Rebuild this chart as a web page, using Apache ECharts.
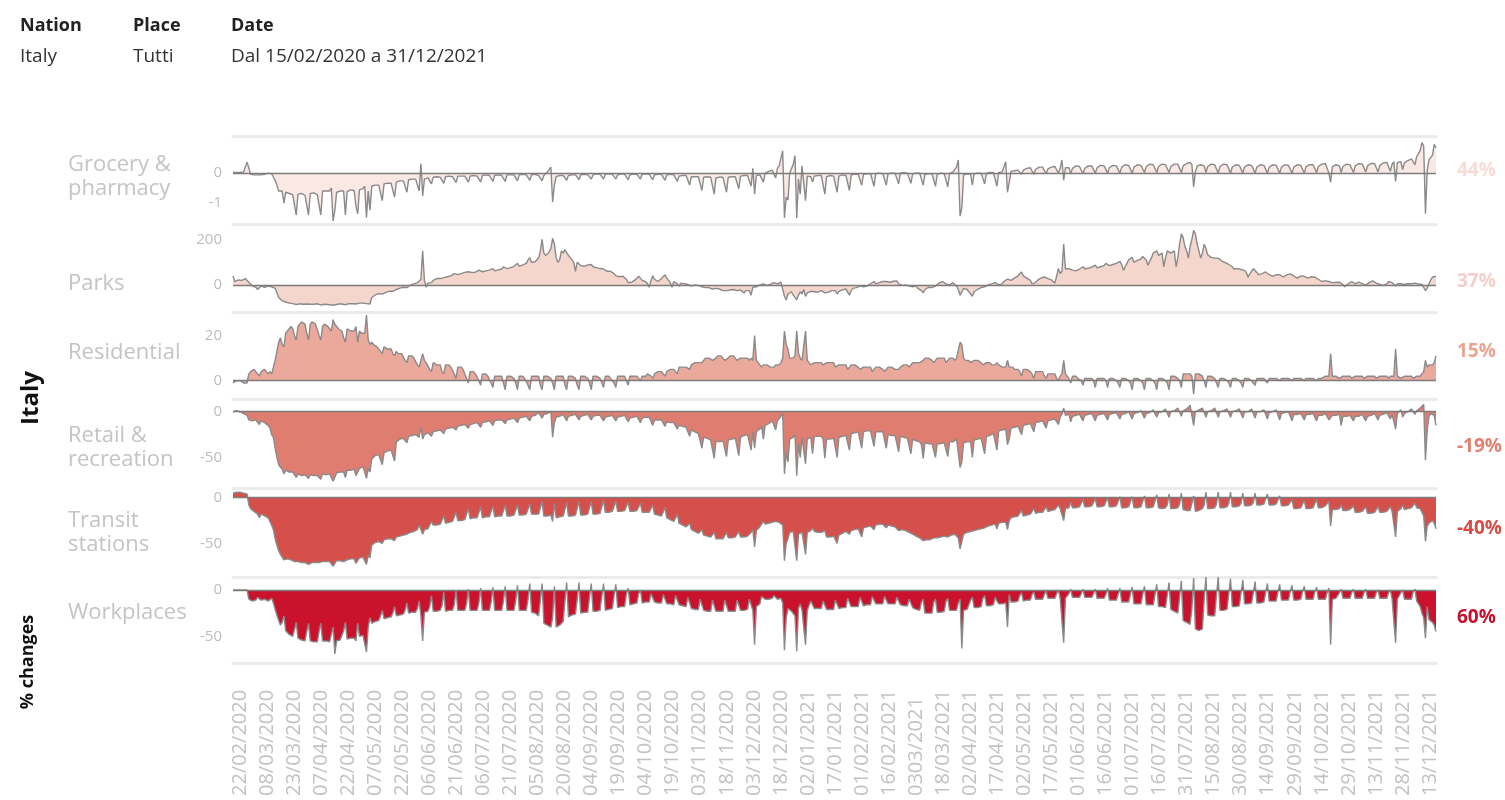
<!DOCTYPE html>
<html><head><meta charset="utf-8">
<script src="https://cdn.jsdelivr.net/npm/echarts@6/dist/echarts.min.js"></script>
<style>html,body{margin:0;padding:0;background:#fff}#c{width:1505px;height:800px}</style>
</head><body><div id="c"></div>
<script>
// ---------- DATA ----------
const nation = 'Italy', place = 'Tutti', period = 'Dal 15/02/2020 a 31/12/2021';
const startDate = [2020, 1, 15];   // 15/02/2020, one value per day up to 31/12/2021
const panelNames = [['Grocery &','pharmacy'],['Parks'],['Residential'],['Retail &','recreation'],['Transit','stations'],['Workplaces']];
const summaryLabels = ['44%','37%','15%','-19%','-40%','60%'];
const yTickValues = [[0,-50],[0,200],[0,20],[0,-50],[0,-50],[0,-50]];
const yTickLabels = [['0','-1'],['0','200'],['0','20'],['0','-50'],['0','-50'],['0','-50']];
const xTickLabels = ['22/02/2020','08/03/2020','23/03/2020','07/04/2020','22/04/2020','07/05/2020','22/05/2020','06/06/2020','21/06/2020','06/07/2020','21/07/2020','05/08/2020','20/08/2020','04/09/2020','19/09/2020','04/10/2020','19/10/2020','03/11/2020','18/11/2020','03/12/2020','18/12/2020','02/01/2021','17/01/2021','01/02/2021','16/02/2021','0303/2021','18/03/2021','02/04/2021','17/04/2021','02/05/2021','17/05/2021','01/06/2021','16/06/2021','01/07/2021','16/07/2021','31/07/2021','15/08/2021','30/08/2021','14/09/2021','29/09/2021','14/10/2021','29/10/2021','13/11/2021','28/11/2021','13/12/2021'];

// weekly rows: Sat..Fri
const grocery = [
1,0,1,0,1,0,2,
5,18,9,-2,-3,-3,-2,
-3,-2,-3,-2,-2,-1,0,
1,-1,-3,-12,-20,-30,-28,
-30,-50,-32,-33,-34,-35,-36,
-36,-70,-35,-36,-34,-35,-37,
-37,-70,-34,-35,-33,-34,-36,
-33,-70,-30,-31,-30,-28,-30,
-25,-80,-62,-32,-31,-30,-31,
-30,-70,-31,-29,-28,-27,-29,
-55,-68,-28,-27,-26,-22,-74,
-30,-62,-22,-21,-20,-19,-20,
-21,-46,-18,-17,-17,-16,-17,
-18,-40,-15,-13,-13,-12,-13,
-14,-32,-11,-10,-10,-9,-10,
-10,-30,16,-38,-10,-8,-8,
-8,-18,-7,-6,-6,-6,-7,
-7,-17,-6,-6,-5,-5,-6,
-6,-16,-5,-5,-5,-4,-5,
-6,-15,-5,-4,-4,-4,-5,
-5,-15,-4,-4,-3,-3,-4,
-5,-14,-4,-3,-3,-3,-4,
-5,-14,-3,-3,-3,-2,-3,
-4,-13,-3,-3,-2,-2,-3,
-3,-12,-3,-3,-2,-3,-4,
-4,-13,-4,-3,2,6,10,
-48,-20,-6,-5,-4,-4,-4,
-5,-12,-4,-3,-3,-3,-3,
-4,-11,-3,-2,-2,-2,-3,
-3,-10,-3,-2,-1,-1,-2,
-3,-10,-2,-1,-1,-1,-2,
-3,-10,-3,-2,-1,-1,-2,
-3,-11,-3,-2,-2,-1,-2,
-3,-10,-2,-2,-1,-1,-2,
-3,-11,-3,-2,-2,-1,-2,
-3,-12,-3,-3,-2,-2,-3,
-4,-14,-5,-4,-4,-3,-4,
-6,-20,-6,-5,-6,-5,-6,
-7,-29,-7,-6,-6,-6,-7,
-8,-35,-8,-7,-7,-6,-7,
-8,-32,-7,-6,-6,-5,-6,
-6,-26,-5,-5,-4,-4,-4,
-4,-22,8,-35,-4,-3,-3,
-2,-15,0,2,3,4,5,
6,-8,8,12,25,37,-75,
-40,-45,0,3,15,29,-75,
-10,-35,12,12,-46,-5,-6,
-6,-15,-5,-4,-4,-3,-4,
-5,-35,-6,-5,-4,-4,-5,
-5,-32,-5,-4,-3,-3,-4,
-3,-29,-3,-2,-2,-1,-2,
-2,-20,-2,-1,-1,0,-1,
-1,-22,-1,0,0,0,-1,
-1,-20,-1,0,0,1,0,
0,-18,0,1,1,1,0,
0,-17,-1,0,0,1,0,
-2,-20,-2,-1,-1,0,-1,
-2,-22,-2,-1,0,0,-1,
-1,-23,-1,0,2,5,10,
22,-72,-58,-3,-2,-1,-1,
-2,-20,-1,0,0,1,0,
-1,-18,0,1,1,1,1,
0,-22,1,2,2,4,19,
-32,-15,3,4,4,5,5,
6,-2,5,7,8,9,9,
8,-2,6,8,10,10,10,
9,-1,7,9,10,11,11,
10,0,8,22,-12,9,10,
9,-1,8,10,12,12,11,
10,-1,8,11,12,12,12,
10,0,9,11,13,13,12,
10,0,9,12,13,13,12,
11,0,10,12,14,14,13,
11,0,10,13,14,14,13,
12,1,11,13,15,15,14,
12,1,11,14,15,15,14,
12,1,11,14,15,16,15,
12,1,12,14,16,16,18,
14,-23,2,12,14,14,14,
12,1,11,14,15,15,14,
12,0,11,13,15,15,14,
11,0,10,13,14,14,13,
11,0,10,13,14,14,13,
11,0,10,12,14,14,13,
11,0,10,12,14,14,13,
11,0,10,13,14,14,13,
11,0,10,13,14,14,13,
11,0,11,13,14,15,14,
12,1,11,13,15,15,16,
14,0,-15,11,13,14,13,
12,1,11,14,15,15,14,
12,1,12,14,16,16,15,
13,2,12,15,16,17,16,
14,2,13,16,17,18,18,
16,3,15,19,-14,18,19,
19,6,17,20,21,22,24,
24,14,28,32,38,51,45,
-68,5,22,24,30,48,42
];

const parks = [
40,15,20,22,18,20,25,
28,30,12,5,-5,0,-10,
-20,-25,-5,-8,-10,-12,-5,
0,-8,-5,-15,-35,-55,-62,
-70,-72,-75,-78,-80,-80,-82,
-84,-86,-84,-83,-84,-85,-84,
-84,-86,-85,-86,-85,-84,-83,
-85,-88,-86,-85,-84,-86,-87,
-88,-89,-88,-86,-84,-83,-84,
-85,-87,-83,-82,-82,-83,-82,
-84,-87,-80,-79,-80,-80,-82,
-82,-84,-55,-48,-44,-40,-38,
-37,-40,-35,-33,-30,-28,-29,
-28,-30,-20,-15,-14,-12,-10,
-8,-12,-5,0,2,5,6,
10,12,25,150,20,-10,8,
15,10,20,25,28,30,28,
35,32,30,36,38,40,38,
50,55,45,48,50,52,55,
60,58,52,55,58,56,60,
65,68,58,60,62,63,65,
70,72,62,64,66,68,70,
80,85,72,75,76,78,82,
90,95,82,85,88,86,95,
110,120,100,98,102,105,118,
150,200,140,130,135,145,160,
205,180,120,100,110,150,140,
155,150,130,120,110,100,60,
100,95,85,80,82,84,88,
95,90,80,78,76,75,72,
72,70,62,60,58,60,56,
50,40,38,36,40,38,34,
25,10,15,12,20,22,30,
38,30,20,18,14,5,-10,
20,40,25,20,15,22,28,
35,45,30,20,10,-10,15,
10,5,-5,8,10,5,0,
2,-3,-5,-2,0,3,-2,
-5,-8,-10,-12,-10,-12,-15,
-18,-22,-15,-20,-18,-22,-25,
-20,-25,-18,-22,-24,-20,-22,
-25,-28,-22,-30,-35,-25,-20,
-25,-45,-10,-5,-8,-5,0,
2,5,0,-2,0,2,5,
10,15,5,8,12,20,-50,
-66,-40,-35,-30,-45,-55,-65,
-45,-30,-40,-20,-50,-35,-30,
-28,-35,-30,-28,-32,-30,-25,
-28,-35,-30,-32,-28,-25,-22,
-25,-40,-28,-25,-22,-20,-18,
-20,-45,-25,-15,-10,-12,-5,
-5,-10,-8,-12,-5,0,5,
12,15,5,8,10,12,15,
18,15,10,12,14,16,20,
18,5,2,-2,-5,0,2,
-5,-12,-8,-10,-5,-15,-20,
-25,-35,-20,-15,-10,-18,-12,
-10,-5,0,8,12,15,10,
5,2,0,5,10,8,-5,
-20,-45,-40,-15,-10,-20,-30,
-40,-50,-30,-25,-20,-15,-12,
-10,-8,-5,0,2,5,8,
10,12,0,-2,5,15,20,
26,30,20,25,30,35,40,
45,57,40,35,30,25,20,
5,0,10,20,25,30,34,
35,40,28,25,22,15,8,
40,72,50,60,180,70,65,
72,75,65,60,62,66,70,
78,80,70,72,74,76,78,
82,87,75,78,80,82,85,
95,100,85,88,90,92,95,
100,104,90,64,80,95,110,
118,121,100,105,108,110,115,
125,133,110,87,105,120,140,
148,150,130,135,140,80,120,
150,156,140,145,150,80,120,
180,225,209,170,150,118,170,
200,240,225,180,150,118,140,
179,160,133,125,121,118,118,
125,118,110,105,102,98,95,
90,85,80,70,64,72,70,
68,72,64,55,34,50,60,
72,65,55,45,41,50,55,
57,50,45,40,38,42,45,
48,45,38,35,41,44,46,
49,45,40,35,30,38,40,
40,38,32,30,34,36,35,
34,30,25,20,15,11,18,
20,15,8,10,12,11,10,
12,8,2,-8,0,5,10,
15,18,5,10,12,8,6,
5,0,-5,10,15,18,12,
8,5,2,0,-2,3,5,
15,23,10,8,-5,5,8,
5,3,2,3,5,4,5,
6,8,5,4,4,3,2,
-25,-15,5,22,35,38,37
];

const residential = [
-1,-1,0,0,0,0,-1,
-1,-1,3,4,4,5,4,
3,2,4,4,5,4,3,
4,3,6,9,13,17,19,
16,15,21,22,23,24,23,
20,18,24,25,26,26,25,
21,18,25,26,26,25,25,
20,18,24,25,25,24,24,
22,27,25,24,23,23,22,
19,17,23,23,22,22,22,
24,17,22,21,21,21,29,
18,16,17,16,16,15,15,
13,12,15,15,14,14,14,
12,11,13,12,12,12,12,
9,8,11,11,11,10,10,
7,6,9,12,9,8,8,
5,4,8,8,7,7,7,
4,3,7,7,7,6,6,
3,1,6,6,6,5,5,
1,-1,4,4,4,3,3,
0,-2,3,3,3,2,2,
-1,-3,2,2,2,2,2,
-1,-4,2,2,2,2,1,
-1,-4,2,2,2,1,1,
-2,-4,2,2,2,2,2,
-2,-4,2,2,2,2,1,
-1,-4,2,2,2,2,2,
-2,-4,2,2,2,2,1,
-2,-4,2,2,2,2,1,
-1,-4,2,2,2,2,1,
-1,-3,2,2,2,1,1,
-1,-3,2,2,2,2,2,
0,-2,2,2,2,2,2,
1,0,2,2,2,3,3,
2,1,3,3,4,4,4,
3,2,4,4,5,5,5,
4,3,6,6,6,6,6,
6,5,7,7,8,8,8,
8,8,9,10,10,10,10,
9,9,10,11,11,11,10,
9,9,10,11,11,11,11,
9,9,10,10,10,10,10,
9,10,9,20,9,8,8,
6,7,7,7,7,6,6,
6,7,7,7,8,10,22,
16,14,10,10,10,11,22,
12,10,9,9,22,9,8,
7,7,8,8,8,8,8,
7,7,8,8,8,8,8,
6,6,7,7,7,7,7,
5,5,7,7,7,7,6,
5,5,6,6,6,6,6,
4,4,6,6,6,6,5,
4,4,6,6,6,6,5,
5,5,6,6,7,7,7,
6,7,8,8,8,8,8,
8,9,10,10,10,10,9,
8,8,10,10,10,10,10,
8,8,10,10,10,9,10,
10,17,16,10,9,9,9,
8,8,9,9,9,9,8,
7,7,8,8,8,7,7,
7,8,7,7,6,6,6,
9,6,6,6,5,5,5,
4,2,5,5,5,5,4,
3,1,4,4,4,4,4,
2,1,3,3,3,3,3,
1,0,2,3,9,3,2,
1,-1,2,2,2,1,1,
0,-2,1,1,1,1,1,
0,-3,1,1,1,1,1,
0,-3,1,1,1,1,0,
-1,-3,1,1,1,1,0,
-1,-4,1,1,1,1,0,
-1,-4,1,1,1,1,0,
-1,-4,1,1,1,1,0,
-1,-4,2,2,2,2,1,
0,-3,3,3,3,3,3,
2,-6,3,3,3,3,2,
0,-3,2,2,2,2,1,
-1,-3,1,1,1,1,0,
-1,-3,1,1,1,1,0,
-1,-3,1,1,1,1,0,
0,-2,1,1,1,1,1,
0,-1,1,1,1,1,1,
1,0,1,1,1,1,1,
1,0,1,1,1,1,1,
1,0,1,1,1,1,1,
1,0,1,1,1,1,2,
2,2,12,2,2,2,2,
1,1,2,2,2,2,2,
1,1,2,2,2,2,2,
1,1,2,2,2,2,2,
1,1,2,2,2,2,2,
1,2,2,2,14,2,2,
1,1,2,2,2,2,2,
1,1,2,2,2,2,4,
9,6,7,7,7,8,11
];

const retail = [
0,-1,1,0,0,0,-2,
-3,-4,-9,-8,-10,-9,-9,
-10,-14,-10,-11,-12,-13,-15,
-18,-25,-28,-40,-50,-58,-60,
-63,-68,-64,-65,-66,-67,-66,
-68,-72,-68,-69,-70,-70,-69,
-70,-73,-69,-70,-70,-70,-70,
-70,-74,-68,-68,-69,-68,-68,
-70,-76,-74,-67,-66,-66,-65,
-66,-72,-64,-64,-64,-63,-63,
-70,-72,-62,-61,-60,-58,-73,
-62,-66,-52,-50,-48,-47,-47,
-47,-58,-45,-44,-43,-42,-42,
-43,-54,-33,-31,-30,-29,-29,
-28,-34,-27,-26,-26,-25,-25,
-24,-28,-16,-30,-25,-24,-23,
-22,-27,-22,-21,-21,-20,-20,
-19,-24,-19,-18,-18,-17,-17,
-16,-20,-16,-15,-15,-15,-14,
-14,-18,-14,-13,-13,-13,-12,
-12,-17,-12,-11,-11,-11,-10,
-10,-15,-10,-10,-9,-9,-9,
-8,-13,-9,-8,-8,-7,-7,
-6,-12,-7,-6,-6,-6,-5,
-4,-10,-5,-4,-4,-3,-1,
1,-7,-3,-3,-2,-1,0,
-28,-12,-6,-5,-5,-4,-3,
-3,-10,-5,-4,-4,-4,-3,
-3,-9,-5,-4,-4,-4,-3,
-3,-9,-5,-5,-4,-4,-4,
-4,-10,-6,-5,-5,-5,-4,
-4,-10,-6,-5,-5,-5,-4,
-5,-11,-7,-6,-6,-6,-5,
-5,-12,-7,-7,-6,-6,-6,
-6,-15,-9,-9,-9,-9,-9,
-10,-16,-11,-11,-12,-12,-12,
-13,-19,-15,-15,-16,-16,-17,
-18,-27,-20,-21,-22,-23,-24,
-26,-40,-28,-29,-29,-30,-31,
-32,-51,-32,-32,-33,-33,-32,
-32,-49,-31,-31,-30,-30,-29,
-29,-48,-28,-27,-26,-26,-25,
-26,-42,-22,-40,-22,-20,-19,
-16,-30,-15,-14,-13,-12,-10,
-8,-20,-10,-8,-5,-2,-68,
-45,-55,-30,-30,-28,-25,-70,
-35,-50,-28,-30,-57,-30,-29,
-28,-46,-27,-27,-27,-27,-27,
-30,-51,-30,-30,-30,-29,-29,
-30,-50,-28,-27,-27,-26,-26,
-25,-42,-24,-24,-23,-23,-22,
-22,-40,-22,-22,-21,-21,-21,
-22,-38,-22,-22,-22,-22,-22,
-24,-40,-25,-25,-26,-26,-26,
-26,-44,-27,-27,-28,-28,-29,
-30,-46,-30,-31,-32,-32,-33,
-36,-51,-34,-34,-35,-35,-35,
-36,-50,-35,-35,-35,-35,-34,
-34,-49,-33,-33,-33,-32,-30,
-30,-61,-55,-34,-33,-33,-33,
-33,-50,-31,-30,-30,-29,-29,
-29,-46,-27,-26,-26,-25,-24,
-23,-42,-21,-20,-20,-19,-19,
-36,-30,-18,-17,-17,-16,-16,
-15,-25,-15,-14,-14,-13,-13,
-12,-22,-12,-11,-11,-11,-10,
-10,-18,-10,-9,-9,-8,-8,
-7,-14,-6,-3,4,-4,-4,
-3,-11,-5,-4,-4,-3,-3,
-2,-10,-4,-3,-3,-3,-2,
-2,-10,-4,-3,-3,-2,-2,
-1,-9,-3,-3,-2,-2,-1,
0,-8,-3,-2,-2,-1,0,
1,-8,-2,-2,-1,-1,1,
2,-7,-2,-1,-1,0,2,
3,-6,-1,-1,0,1,3,
4,-6,0,0,1,2,4,
6,-5,1,2,3,5,7,
8,-15,0,1,2,3,4,
5,-6,0,0,1,2,4,
4,-6,0,0,1,1,3,
4,-6,0,0,1,1,3,
3,-7,0,0,0,1,3,
3,-7,0,0,0,1,2,
2,-8,-1,-1,0,0,2,
1,-9,-2,-2,-1,-1,0,
-1,-10,-3,-3,-3,-2,-2,
-2,-9,-3,-3,-3,-3,-2,
-3,-10,-4,-4,-4,-3,-2,
-3,-9,-11,-4,-4,-4,-3,
-3,-15,-5,-5,-5,-5,-4,
-3,-10,-5,-5,-5,-4,-3,
-3,-10,-5,-4,-4,-3,-2,
-2,-9,-4,-4,-3,-3,-1,
0,-8,-3,-3,-19,-2,0,
2,-6,-2,-1,0,1,3,
4,-3,1,2,4,6,8,
-53,-20,-5,-2,-3,-4,-15
];

const transit = [
5,7,6,5,6,6,5,
6,4,-8,-12,-14,-15,-16,
-18,-22,-18,-19,-20,-21,-22,
-26,-30,-35,-45,-52,-58,-62,
-65,-68,-66,-67,-68,-68,-68,
-70,-72,-70,-71,-71,-71,-71,
-71,-73,-71,-71,-71,-71,-71,
-71,-72,-70,-70,-70,-70,-70,
-72,-75,-74,-69,-69,-69,-69,
-70,-72,-68,-68,-67,-67,-67,
-72,-70,-66,-65,-65,-64,-73,
-63,-66,-52,-50,-49,-48,-48,
-47,-50,-46,-46,-45,-45,-45,
-45,-47,-43,-42,-42,-41,-41,
-40,-40,-39,-38,-38,-37,-37,
-35,-30,-32,-40,-35,-34,-34,
-32,-26,-30,-30,-30,-29,-29,
-28,-20,-28,-28,-27,-27,-26,
-26,-16,-25,-25,-25,-24,-24,
-23,-12,-23,-23,-22,-22,-22,
-22,-10,-22,-22,-21,-21,-21,
-21,-9,-21,-21,-20,-20,-20,
-20,-8,-20,-20,-20,-19,-19,
-19,-8,-19,-19,-19,-18,-18,
-18,-7,-18,-18,-18,-18,-18,
-18,-4,-20,-20,-20,-20,-19,
-26,-6,-22,-22,-21,-21,-20,
-19,-5,-20,-20,-20,-20,-19,
-18,-4,-19,-19,-19,-19,-18,
-17,-4,-18,-18,-18,-17,-17,
-16,-3,-16,-16,-16,-15,-15,
-15,-4,-15,-15,-15,-14,-14,
-15,-5,-15,-15,-15,-15,-14,
-15,-6,-16,-16,-16,-16,-16,
-17,-8,-18,-18,-19,-19,-20,
-21,-11,-22,-23,-24,-25,-26,
-27,-18,-28,-29,-30,-31,-32,
-33,-28,-35,-36,-37,-38,-39,
-40,-35,-41,-42,-42,-43,-43,
-44,-38,-45,-45,-45,-45,-45,
-44,-38,-44,-44,-44,-43,-43,
-43,-37,-43,-43,-43,-42,-42,
-42,-38,-35,-54,-36,-34,-32,
-30,-26,-29,-29,-28,-27,-27,
-26,-26,-27,-27,-27,-30,-69,
-50,-45,-38,-37,-37,-38,-69,
-40,-42,-38,-38,-62,-38,-37,
-36,-33,-37,-38,-38,-38,-38,
-40,-36,-43,-43,-43,-43,-42,
-42,-50,-41,-40,-39,-38,-37,
-35,-40,-36,-35,-35,-34,-34,
-33,-43,-33,-33,-32,-32,-31,
-31,-35,-30,-30,-29,-29,-29,
-29,-33,-30,-30,-31,-31,-32,
-33,-36,-34,-35,-35,-36,-37,
-38,-40,-40,-41,-42,-43,-44,
-45,-47,-46,-46,-46,-46,-45,
-44,-45,-44,-43,-43,-42,-42,
-42,-43,-41,-41,-40,-40,-40,
-44,-56,-54,-40,-39,-38,-38,
-37,-38,-36,-35,-35,-34,-34,
-33,-33,-32,-31,-31,-30,-30,
-29,-34,-28,-28,-27,-27,-27,
-35,-25,-22,-21,-21,-20,-20,
-20,-14,-20,-19,-19,-18,-18,
-17,-12,-17,-17,-16,-16,-16,
-15,-10,-15,-14,-14,-14,-13,
-12,-8,-12,-12,-25,-12,-11,
-11,-5,-11,-11,-11,-10,-10,
-10,-2,-10,-10,-10,-9,-9,
-9,-1,-10,-10,-10,-9,-9,
-9,0,-10,-10,-10,-10,-9,
-9,1,-11,-11,-11,-10,-10,
-9,1,-11,-11,-11,-11,-10,
-9,2,-11,-11,-11,-11,-10,
-8,3,-11,-12,-12,-12,-11,
-8,4,-12,-12,-12,-12,-11,
-7,5,-13,-14,-14,-14,-14,
-12,2,-15,-14,-14,-13,-12,
-8,6,-12,-12,-12,-12,-11,
-7,6,-11,-11,-11,-11,-10,
-6,6,-10,-10,-10,-9,-9,
-6,5,-9,-9,-9,-9,-8,
-5,5,-8,-8,-8,-8,-7,
-5,4,-8,-8,-8,-7,-7,
-6,2,-9,-9,-9,-9,-8,
-8,-2,-12,-12,-12,-12,-11,
-10,-3,-12,-12,-12,-12,-11,
-10,-2,-11,-11,-11,-10,-9,
-9,-4,-31,-13,-13,-13,-12,
-12,-8,-14,-14,-14,-14,-13,
-14,-9,-16,-16,-16,-16,-15,
-15,-10,-17,-17,-17,-17,-16,
-15,-10,-16,-16,-16,-16,-15,
-15,-10,-15,-15,-43,-15,-14,
-12,-8,-13,-13,-12,-12,-11,
-10,-6,-11,-11,-12,-14,-20,
-48,-31,-28,-26,-25,-28,-34
];

const workplaces = [
0,1,0,0,0,0,0,
0,0,-10,-12,-12,-12,-11,
-8,-6,-11,-11,-10,-11,-12,
-10,-9,-14,-21,-27,-33,-38,
-35,-28,-44,-46,-48,-49,-50,
-43,-35,-52,-53,-54,-54,-55,
-45,-36,-55,-55,-56,-56,-56,
-45,-36,-55,-55,-55,-55,-56,
-48,-40,-69,-55,-54,-54,-54,
-44,-35,-53,-53,-52,-52,-52,
-55,-36,-50,-50,-49,-49,-67,
-40,-30,-36,-35,-34,-34,-33,
-28,-22,-31,-30,-30,-29,-29,
-25,-18,-28,-27,-27,-26,-26,
-22,-14,-25,-25,-24,-24,-24,
-20,-12,-28,-55,-24,-23,-23,
-18,-6,-23,-23,-23,-22,-22,
-17,-2,-23,-23,-22,-22,-22,
-16,0,-22,-22,-22,-22,-22,
-15,1,-22,-22,-22,-22,-22,
-14,2,-22,-22,-22,-22,-22,
-13,3,-22,-22,-22,-22,-22,
-12,4,-22,-22,-22,-22,-22,
-11,5,-22,-22,-22,-22,-22,
-10,7,-24,-25,-25,-26,-28,
-12,7,-36,-37,-38,-39,-40,
-30,4,-40,-39,-38,-36,-34,
-12,8,-29,-28,-27,-26,-26,
-10,8,-25,-25,-24,-24,-24,
-8,7,-23,-23,-23,-22,-22,
-7,7,-22,-21,-21,-20,-20,
-6,6,-19,-19,-18,-18,-18,
-5,2,-16,-15,-15,-15,-14,
-4,0,-14,-13,-13,-13,-13,
-4,-3,-13,-13,-14,-14,-14,
-5,-4,-15,-15,-15,-16,-16,
-6,-5,-16,-17,-17,-18,-18,
-8,-7,-20,-20,-21,-21,-21,
-10,-8,-22,-22,-23,-23,-23,
-11,-9,-23,-23,-23,-23,-23,
-11,-9,-23,-23,-23,-23,-23,
-11,-9,-22,-22,-22,-21,-21,
-10,-9,-22,-59,-18,-17,-15,
-7,-5,-10,-10,-10,-9,-9,
-6,-4,-10,-10,-9,-14,-65,
-30,-20,-22,-23,-24,-28,-66,
-20,-15,-22,-24,-59,-22,-21,
-12,-10,-20,-20,-20,-20,-20,
-12,-10,-21,-21,-21,-21,-21,
-11,-9,-20,-20,-19,-19,-19,
-9,-8,-18,-18,-18,-18,-18,
-8,-7,-17,-17,-16,-16,-16,
-7,-6,-15,-15,-15,-15,-15,
-7,-6,-15,-15,-15,-15,-15,
-8,-7,-16,-16,-17,-17,-17,
-10,-8,-19,-20,-21,-22,-22,
-13,-10,-25,-25,-25,-25,-25,
-13,-10,-24,-24,-24,-24,-23,
-12,-9,-22,-22,-22,-22,-22,
-14,-10,-63,-22,-21,-21,-20,
-11,-8,-19,-19,-19,-19,-18,
-9,-6,-17,-17,-17,-16,-16,
-8,-12,-15,-15,-15,-14,-14,
-40,-5,-13,-13,-13,-12,-12,
-6,-3,-12,-12,-11,-11,-11,
-5,-2,-10,-10,-10,-10,-10,
-5,-1,-9,-9,-9,-9,-9,
-4,0,-9,-9,-57,-9,-9,
-4,1,-8,-8,-8,-8,-8,
-4,1,-8,-8,-8,-8,-8,
-4,1,-9,-9,-9,-9,-9,
-5,2,-11,-11,-11,-11,-11,
-5,2,-13,-13,-13,-13,-13,
-5,3,-15,-15,-15,-15,-15,
-5,4,-16,-16,-16,-16,-16,
-5,6,-18,-18,-18,-18,-19,
-5,8,-21,-22,-23,-24,-25,
-8,10,-33,-34,-35,-36,-37,
-20,13,-42,-43,-44,-43,-42,
-10,14,-27,-27,-28,-28,-28,
-6,14,-22,-22,-22,-21,-21,
-4,12,-18,-18,-18,-17,-17,
-3,11,-15,-15,-15,-14,-14,
-3,9,-14,-14,-14,-13,-13,
-3,7,-12,-12,-12,-12,-12,
-2,6,-11,-11,-11,-11,-11,
-2,5,-11,-11,-11,-11,-10,
-2,4,-10,-10,-10,-10,-10,
-2,3,-10,-10,-10,-10,-10,
-3,2,-59,-10,-9,-9,-9,
-3,1,-9,-9,-9,-9,-9,
-3,1,-9,-9,-9,-9,-9,
-3,1,-9,-9,-9,-9,-9,
-3,0,-9,-9,-9,-9,-9,
-3,0,-10,-10,-57,-10,-10,
-3,0,-10,-10,-10,-10,-10,
-2,1,-12,-14,-18,-25,-30,
-52,-18,-32,-34,-35,-38,-45
];

// ---------- CHART ----------
const seriesData = [grocery, parks, residential, retail, transit, workplaces];
const dayCount = grocery.length;
seriesData.forEach((s, k) => { if (s.length !== dayCount) throw new Error('series ' + k + ' has ' + s.length + ' values'); });

const dates = [];
for (let i = 0; i < dayCount; i++) {
  const d = new Date(Date.UTC(startDate[0], startDate[1], startDate[2] + i));
  const p = n => String(n).padStart(2, '0');
  dates.push(p(d.getUTCDate()) + '/' + p(d.getUTCMonth() + 1) + '/' + d.getUTCFullYear());
}

const panels = [
  { top: 136, height: 88, min: -85,  max: 62,   fill: '#fae8e4', tag: '#f6dcd5' },
  { top: 224, height: 88, min: -119, max: 268,  fill: '#f5d6cd', tag: '#f3cfc5' },
  { top: 312, height: 87, min: -8.1, max: 30.4, fill: '#eaa99b', tag: '#eca392' },
  { top: 399, height: 89, min: -83.5,max: 13.9, fill: '#df7d70', tag: '#e3806f' },
  { top: 488, height: 89, min: -86.8,max: 10.6, fill: '#d6504b', tag: '#d94c45' },
  { top: 577, height: 86, min: -78.8,max: 14,   fill: '#cb122c', tag: '#c8102e' }
];
const nameLines = [[165, 189], [284], [353], [436, 460], [521, 545], [613]];
const tagY = [171, 282, 352, 447, 529, 618];

const FONT = '"Open Sans", "Noto Sans", sans-serif';
const grids = [], xAxes = [], yAxes = [], series = [];
panels.forEach((p, k) => {
  grids.push({ left: 233, right: 69, top: p.top, height: p.height });
  xAxes.push({
    type: 'category', gridIndex: k, data: dates, boundaryGap: false, position: 'top',
    axisLine: { show: true, onZero: false, lineStyle: { color: '#ebebeb', width: 3 } },
    axisTick: { show: false }, axisLabel: { show: false }, splitLine: { show: false }
  });
  yAxes.push({
    type: 'value', gridIndex: k, min: p.min, max: p.max,
    axisLine: { show: false }, axisTick: { show: false }, splitLine: { show: false },
    axisLabel: {
      customValues: yTickValues[k], margin: 11, color: '#bdbdbd', fontSize: 15, fontFamily: FONT,
      formatter: v => { const j = yTickValues[k].indexOf(v); return j >= 0 ? yTickLabels[k][j] : ''; }
    }
  });
  series.push({
    type: 'line', xAxisIndex: k, yAxisIndex: k, data: seriesData[k],
    symbol: 'none', silent: true, animation: false,
    lineStyle: { color: '#8a8a8a', width: 1.4 },
    areaStyle: { color: p.fill, opacity: 1 },
    markLine: {
      silent: true, symbol: 'none', animation: false, label: { show: false },
      lineStyle: { color: '#7c7c7c', width: 1.3, type: 'solid' },
      data: [{ yAxis: 0 }]
    }
  });
});
// date labels along the bottom
const xTickPos = xTickLabels.map((_, k) => 7 + 15 * k);
xAxes.push({
  type: 'value', gridIndex: 5, position: 'bottom', min: 3.12, max: 670.3,
  axisLine: { show: true, onZero: false, lineStyle: { color: '#ebebeb', width: 3 } },
  axisTick: { show: false }, splitLine: { show: false },
  axisLabel: {
    customValues: xTickPos, rotate: 90, align: 'left', margin: 133,
    color: '#c2c2c2', fontSize: 20, fontFamily: FONT,
    formatter: v => { const j = xTickPos.indexOf(v); return j >= 0 ? xTickLabels[j] : ''; }
  }
});

const graphic = [];
const hdr = (x, y, t, bold) => graphic.push({ type: 'text', x, y, silent: true,
  style: { text: t, fill: bold ? '#222' : '#333', font: (bold ? 'bold 18px ' : '19px ') + FONT, verticalAlign: 'middle', align: 'left' } });
hdr(20, 26, 'Nation', true); hdr(133, 26, 'Place', true); hdr(231, 26, 'Date', true);
hdr(20, 57, nation, false); hdr(133, 57, place, false); hdr(231, 57, period, false);
panelNames.forEach((lines, k) => {
  lines.forEach((t, j) => graphic.push({ type: 'text', x: 68, y: nameLines[k][j], silent: true,
    style: { text: t, fill: '#c4c4c4', font: '22px ' + FONT, verticalAlign: 'middle', align: 'left' } }));
  graphic.push({ type: 'text', x: 1457, y: tagY[k], silent: true,
    style: { text: summaryLabels[k], fill: panels[k].tag, font: 'bold 19px ' + FONT, verticalAlign: 'middle', align: 'left' } });
});
graphic.push({ type: 'text', x: 31, y: 398, rotation: Math.PI / 2, silent: true,
  style: { text: nation, fill: '#111', font: 'bold 24px ' + FONT, align: 'center', verticalAlign: 'middle' } });
graphic.push({ type: 'text', x: 28, y: 662, rotation: Math.PI / 2, silent: true,
  style: { text: '% changes', fill: '#111', font: 'bold 18px ' + FONT, align: 'center', verticalAlign: 'middle' } });

const chart = echarts.init(document.getElementById('c'), null, { renderer: 'canvas' });
chart.setOption({
  animation: false, backgroundColor: '#fff',
  grid: grids, xAxis: xAxes, yAxis: yAxes, series, graphic
});
</script></body></html>
